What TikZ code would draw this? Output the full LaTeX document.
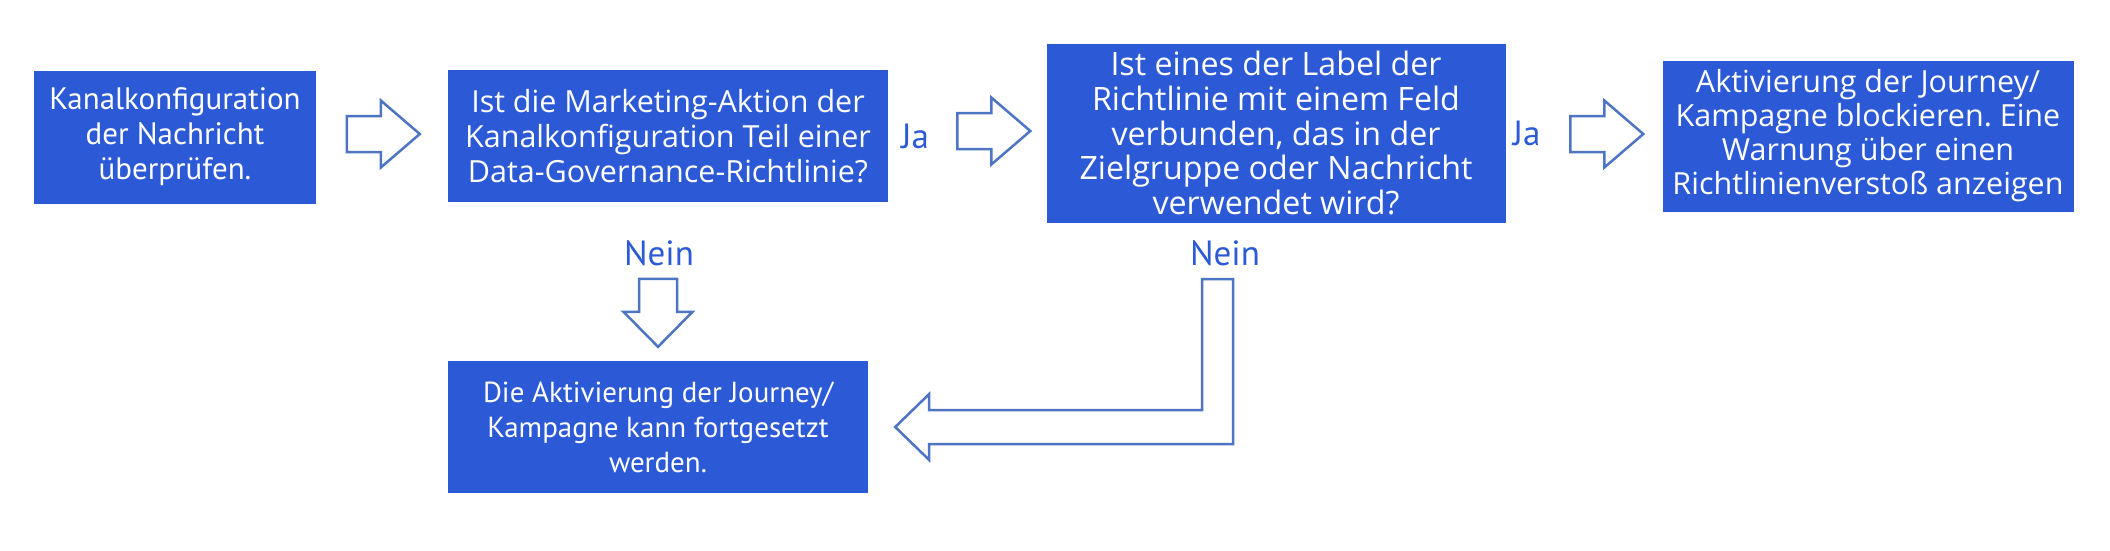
\documentclass[tikz,border=0pt]{standalone}
\usepackage{fontspec}
\setmainfont{PT Sans}
\newfontfamily\widefont{Open Sans}
\frenchspacing
\usetikzlibrary{calc}
\definecolor{boxblue}{RGB}{44,90,214}
\definecolor{arrowblue}{RGB}{78,116,196}
\tikzset{
    stepbox/.style={fill=boxblue,text=white,align=center,inner sep=0pt,
        font=\fontsize{29}{35}\selectfont},
    answer/.style={text=boxblue,inner sep=0pt,
        font=\fontsize{35}{40}\selectfont},
    blockarrow/.style={draw=arrowblue,line width=2.5pt,fill=white},
    rightarrow/.pic={
        \draw[blockarrow] (0,-18)--(34,-18)--(34,-33.5)--(73,0)
            --(34,33.5)--(34,18)--(0,18)--cycle;}
}
\begin{document}
\begin{tikzpicture}[x=1pt,y=-1pt]
            \useasboundingbox (0,0) rectangle (2110,550);
            \node[stepbox,minimum width=282pt,minimum height=133pt,
                font=\fontsize{31}{35}\selectfont]
                (pruefen) at (175,137)
                {Kanalkonfiguration\\der Nachricht\\überprüfen.};
            \node[stepbox,minimum width=440pt,minimum height=132pt,
                font=\widefont\fontsize{30.5}{35}\selectfont]
                (governance) at (668,136)
                {Ist die Marketing-Aktion der\\Kanalkonfiguration Teil einer\\Data-Governance-Richtlinie?};
            \node[stepbox,minimum width=459pt,minimum height=179pt,
                font=\widefont\fontsize{32.2}{34.7}\selectfont]
                (label) at (1276,133)
                {Ist eines der Label der\\Richtlinie mit einem Feld\\verbunden, das in der\\Zielgruppe oder Nachricht\\verwendet wird?};
            \node[stepbox,minimum width=411pt,minimum height=151pt,
                font=\widefont\fontsize{30.5}{34}\selectfont]
                (blockieren) at (1868,136)
                {Aktivierung der Journey/\\Kampagne blockieren. Eine\\Warnung über einen\\Richtlinienverstoß anzeigen};
            \node[stepbox,minimum width=420pt,minimum height=132pt]
                (fortsetzen) at (658,427)
                {Die Aktivierung der Journey/\\Kampagne kann fortgesetzt\\werden.};
            \node[answer] (ja1) at ($(governance.east)+(27,0)$) {Ja};
            \node[answer] (ja2) at ($(label.east)+(21,0)$) {Ja};
            \node[answer] (nein1) at ($(fortsetzen.north)+(1,-108)$) {Nein};
            \node[answer] (nein2) at ($(label.south)+(-51,31)$) {Nein};
            \foreach \ziel/\abstand in {governance/101,label/89,blockieren/92}
                {\pic at ($(\ziel.west)+(-\abstand,-2)$) {rightarrow};}
            \draw[blockarrow]
                ($(fortsetzen.north)+(0,-14)$) -- ++(-34.5,-35) -- ++(15.5,0)
                -- ++(0,-33) -- ++(38,0) -- ++(0,33) -- ++(15.5,0) -- cycle;
            \draw[blockarrow]
                ($(fortsetzen.east)+(27,0)$) -- ++(34,-33) -- ++(0,16)
                -- ++(273,0) -- ++(0,-131) -- ++(31,0) -- ++(0,165)
                -- ++(-304,0) -- ++(0,16) -- cycle;
\end{tikzpicture}
\end{document}
